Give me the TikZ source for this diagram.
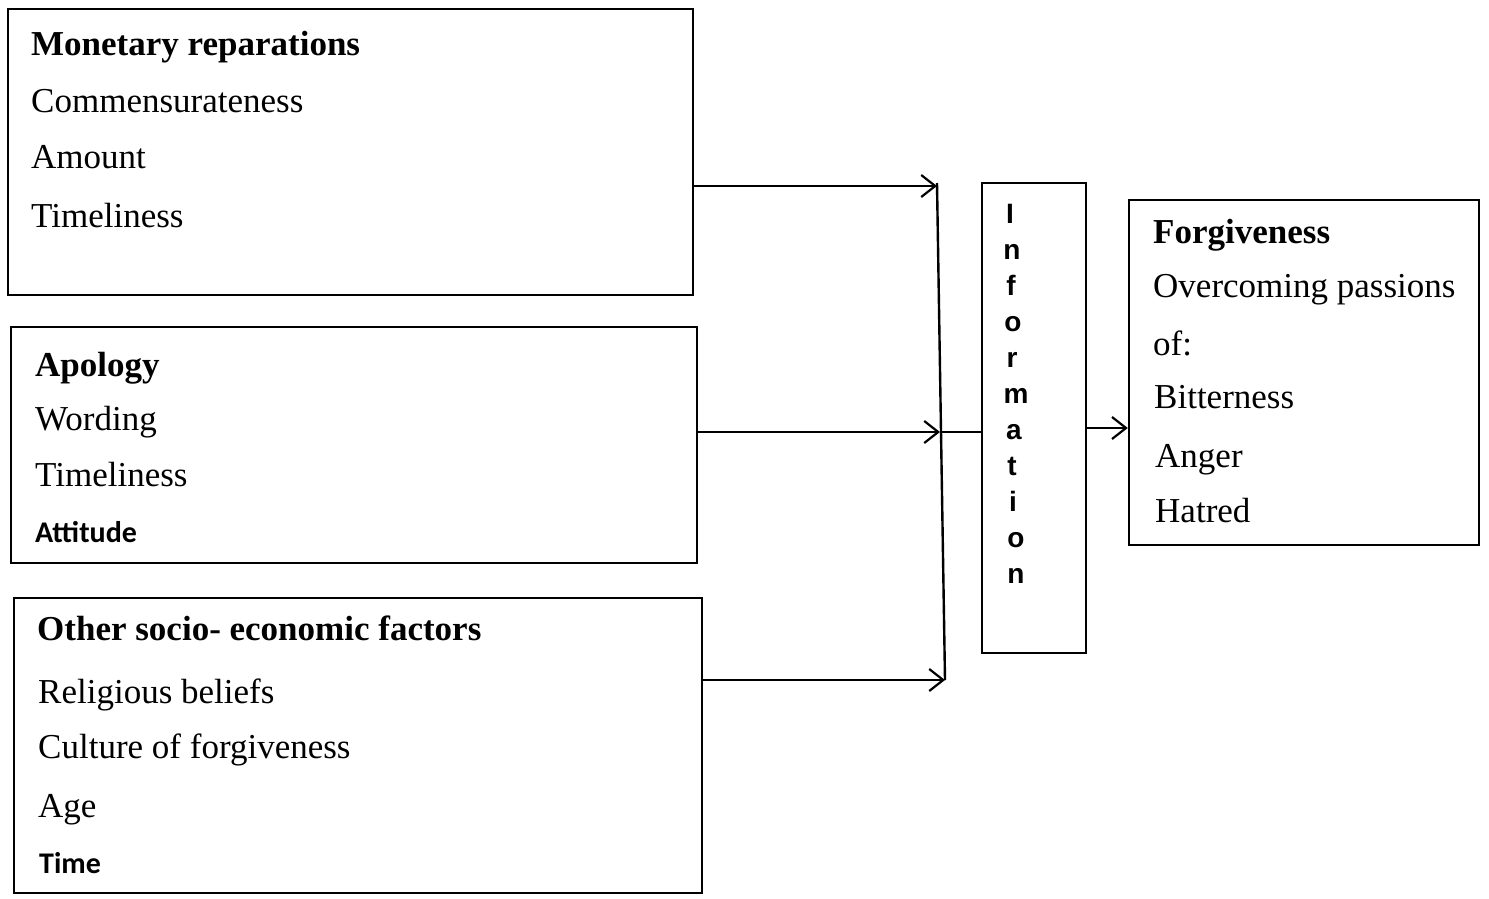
\documentclass[tikz,border=0pt]{standalone}
\usepackage{fontspec}
\setmainfont{Liberation Serif}
\newfontfamily\infofont{Liberation Sans}
\newfontfamily\sidefont{Carlito}
\usetikzlibrary{arrows.meta}
\begin{document}
\begin{tikzpicture}[x=1pt,y=-1pt,line width=2.4pt,
    >={Straight Barb[length=14pt,width=22pt,line width=2.2pt]}]

        \useasboundingbox (0,0) rectangle (1489,898);

        \begin{scope}[every node/.style={draw,rectangle,inner sep=0pt}]
          \node[minimum width=685pt,minimum height=286pt] (money)   at (350.5,152) {};
          \node[minimum width=686pt,minimum height=236pt] (apology) at (354,445)   {};
          \node[minimum width=688pt,minimum height=295pt] (socio)   at (358,745.5) {};
          \node[minimum width=104pt,minimum height=470pt] (info)    at (1034,418)  {};
          \node[minimum width=350pt,minimum height=345pt] (forgive) at (1304,372.5) {};
        \end{scope}

        \begin{scope}[every node/.style={anchor=base west,inner sep=0pt,
            font=\fontsize{35}{40}\selectfont}]
          \node (m0) at (30,55)  {\textbf{Monetary reparations}};
          \node (m1) at (30,112) {Commensurateness};
          \node (m2) at (30,168) {Amount};
          \node (m3) at (30,227) {Timeliness};

          \node (a0) at (34,376) {\textbf{Apology}};
          \node (a1) at (34,430) {Wording};
          \node (a2) at (34,486) {Timeliness};
          \node[font=\sidefont\bfseries\fontsize{30}{36}\selectfont] (a3) at (34,542) {Attitude};

          \node (s0) at (36,640) {\textbf{Other socio- economic factors}};
          \node (s1) at (37,703) {Religious beliefs};
          \node (s2) at (37,758) {Culture of forgiveness};
          \node (s3) at (37,817) {Age};
          \node[font=\sidefont\bfseries\fontsize{30}{36}\selectfont] (s4) at (38,873) {Time};

          \node (f0) at (1152,243) {\textbf{Forgiveness}};
          \node (f1) at (1152,297) {Overcoming passions};
          \node (f2) at (1152,355) {of:};
          \node (f3) at (1153,408) {Bitterness};
          \node (f4) at (1154,467) {Anger};
          \node (f5) at (1154,522) {Hatred};
        \end{scope}

        \begin{scope}[every node/.style={anchor=base,inner sep=0pt,
            font=\infofont\bfseries\fontsize{28}{32}\selectfont}]
          \node (i1)  at (1010,223) {I};
          \node (i2)  at (1012,259) {n};
          \node (i3)  at (1011,295) {f};
          \node (i4)  at (1013,331) {o};
          \node (i5)  at (1012,367) {r};
          \node (i6)  at (1016,403) {m};
          \node (i7)  at (1014,439) {a};
          \node (i8)  at (1012,475) {t};
          \node (i9)  at (1013,511) {i};
          \node (i10) at (1016,547) {o};
          \node (i11) at (1016,583) {n};
        \end{scope}

        % collector line
        \coordinate (top) at (937,183);
        \coordinate (mid) at (940,432);
        \coordinate (bot) at (945,680);
        \draw (top) -- (bot);

        \draw[->] (money.east |- 0,186) -- (top |- 0,186);
        \draw[->] (apology.east |- mid) -- (mid);
        \draw[->] (socio.east |- bot) -- (bot);
        \draw (mid) -- (info.west |- mid);
        \draw[->] (info.east |- 0,428) -- (forgive.west |- 0,428);

      \end{tikzpicture}
\end{document}
